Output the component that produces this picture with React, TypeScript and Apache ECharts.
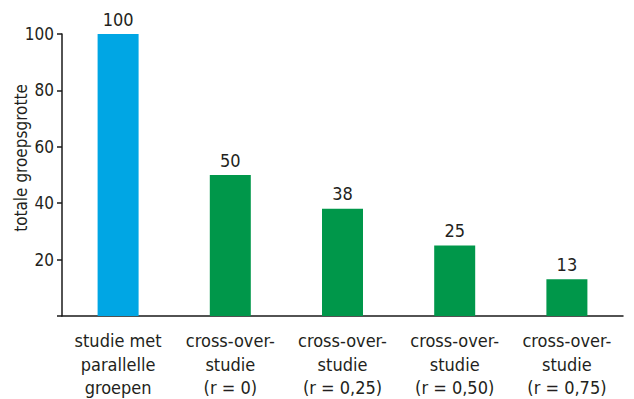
import React, { useEffect, useRef } from "react";
import * as echarts from "echarts";

const categories = [
  "studie met\nparallelle\ngroepen",
  "cross-over-\nstudie\n(r = 0)",
  "cross-over-\nstudie\n(r = 0,25)",
  "cross-over-\nstudie\n(r = 0,50)",
  "cross-over-\nstudie\n(r = 0,75)",
];
const values = [100, 50, 38, 25, 13];
const barColors = ["#00a6e4", "#00974a", "#00974a", "#00974a", "#00974a"];
const yAxisTitle = "totale groepsgrotte";

const FONT = "'Liberation Sans Narrow', 'DejaVu Sans Condensed', 'Roboto Condensed', sans-serif";
const TEXT = "#231f20";

export default function App() {
  const ref = useRef<HTMLDivElement>(null);
  useEffect(() => {
    if (!ref.current) return;
    const chart = echarts.init(ref.current, undefined, { renderer: "svg" });
    chart.setOption({
      animation: false,
      textStyle: { fontFamily: FONT, color: TEXT },
      grid: {
        left: 62,
        right: 11,
        top: 34,
        bottom: 83,
        containLabel: false,
        outerBoundsMode: "none",
      },
      xAxis: {
        type: "category",
        data: categories,
        axisLine: { lineStyle: { color: "#1a1a1a", width: 1.5 } },
        axisTick: { show: false },
        axisLabel: {
          fontFamily: FONT,
          fontSize: 18,
          color: TEXT,
          lineHeight: 23.5,
          margin: 13,
          interval: 0,
        },
      },
      yAxis: {
        type: "value",
        min: 0,
        max: 100,
        interval: 20,
        name: yAxisTitle,
        nameLocation: "middle",
        nameGap: 33,
        nameMoveOverlap: false,
        nameTextStyle: {
          fontFamily: FONT,
          fontSize: 17,
          color: TEXT,
          padding: [0, 0, 0, 34],
        },
        axisLine: { show: true, lineStyle: { color: "#1a1a1a", width: 1.5 } },
        axisTick: { show: true, length: 5, lineStyle: { color: "#1a1a1a", width: 1.5 } },
        splitLine: { show: false },
        axisLabel: {
          fontFamily: FONT,
          fontSize: 17,
          color: TEXT,
          margin: 8,
          formatter: (v: number) => (v === 0 ? "" : String(v)),
        },
      },
      series: [
        {
          type: "bar",
          barWidth: 41,
          data: values.map((v, i) => ({ value: v, itemStyle: { color: barColors[i] } })),
          label: {
            show: true,
            position: "top",
            distance: 6,
            fontFamily: FONT,
            fontSize: 18,
            color: TEXT,
          },
        },
      ],
    });
    return () => chart.dispose();
  }, []);
  return <div ref={ref} style={{ width: 634, height: 399, position: "absolute", left: 0, top: 0 }} />;
}
